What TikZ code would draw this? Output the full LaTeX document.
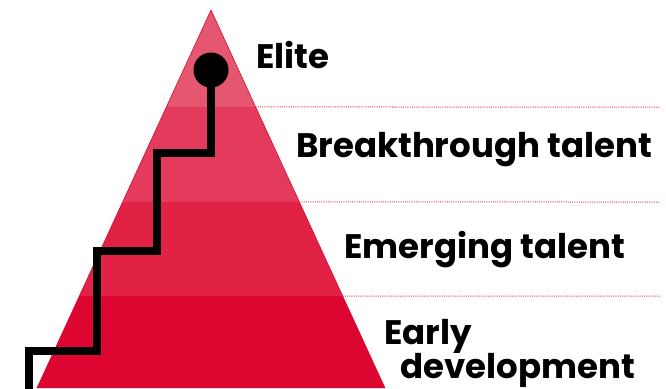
\documentclass[tikz,border=0pt]{standalone}
\usepackage{fontspec}
\setmainfont{Poppins}[BoldFont={Poppins Bold}]
\usetikzlibrary{calc}
\usetikzlibrary{positioning}

\definecolor{bandA}{HTML}{E5566F}
\definecolor{bandB}{HTML}{E43A5C}
\definecolor{bandC}{HTML}{E22244}
\definecolor{bandD}{HTML}{DC0630}
\definecolor{edgered}{HTML}{D80A34}
\definecolor{dotred}{HTML}{E4365A}

\begin{document}
\begin{tikzpicture}
	[
	x=1pt, y=-1pt,
	level/.style = {font=\fontsize{34}{38}\selectfont\bfseries, anchor=base west, inner sep=0pt},
	sep/.style = {dotred, line width=1pt, dash pattern=on 1pt off 1.2pt},
	stair/.style = {line width=8pt, line join=miter}
	]
	\useasboundingbox (0,0) rectangle (666,388);

	\coordinate (top) at (211,10);
	\coordinate (bl) at (37,388);
	\coordinate (br) at (385,388);

	% band borders on both sides
	\coordinate (l1) at ($(top)!0.2566!(bl)$);
	\coordinate (r1) at ($(top)!0.2566!(br)$);
	\coordinate (l2) at ($(top)!0.5079!(bl)$);
	\coordinate (r2) at ($(top)!0.5079!(br)$);
	\coordinate (l3) at ($(top)!0.7566!(bl)$);
	\coordinate (r3) at ($(top)!0.7566!(br)$);

	\fill[bandA] (top) -- (r1) -- (l1) -- cycle;
	\fill[bandB] (l1) -- (r1) -- (r2) -- (l2) -- cycle;
	\fill[bandC] (l2) -- (r2) -- (r3) -- (l3) -- cycle;
	\fill[bandD] (l3) -- (r3) -- (br) -- (bl) -- cycle;
	\draw[edgered, line width=0.6pt] (bl) -- (top) -- (br);

	\draw[sep] (r1) -- (660,107);
	\draw[sep] (r2) -- (660,202);
	\draw[sep] (r3) -- (660,296);

	% the steps
	\draw[stair] (211,70) -- (211,153) -| (157,251) -| (97,351) -| (29,395);
	\fill (211,70) circle (17.5);

	\node[level] (elite) at (256,68) {Elite};
	\node[level] (breakthrough) at (296,157) {Breakthrough talent};
	\node[level] (emerging) at (344,258) {Emerging talent};
	\node[level] (early) at (384,344) {Early};
	\node[level] (development) at (400,378) {development};
\end{tikzpicture}
\end{document}
